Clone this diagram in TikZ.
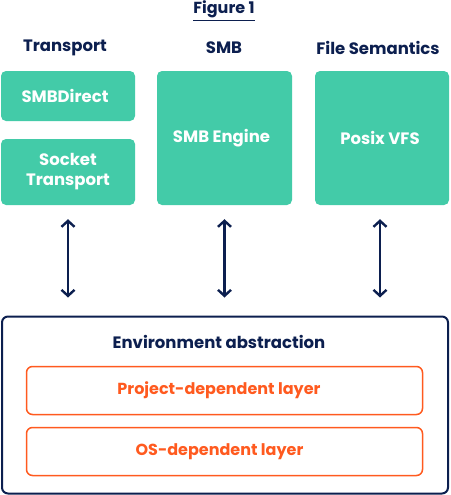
\documentclass[tikz,border=0pt]{standalone}
\usepackage{fontspec}
\setmainfont{Poppins}
\usetikzlibrary{arrows.meta}
\definecolor{navy}{HTML}{0C1F4F}
\definecolor{teal}{HTML}{43CBA8}
\definecolor{orng}{HTML}{FF5A1F}
\tikzset{
	block/.style={fill=teal, rounded corners=5pt, text=white, font=\bfseries\fontsize{16.5}{20}\selectfont, align=center, inner sep=0pt},
	layer/.style={draw=orng, line width=1.5pt, rounded corners=6pt, text=orng, font=\bfseries\fontsize{16}{18}\selectfont, minimum width=396pt, minimum height=48pt, inner sep=0pt},
	head/.style={text=navy, font=\bfseries\fontsize{16.5}{18}\selectfont, inner sep=0pt},
	link/.style={{Straight Barb[length=6pt, width=13pt]}-{Straight Barb[length=6pt, width=13pt]}, line width=2.4pt, draw=navy},
}

\begin{document}
\begin{tikzpicture}[x=1pt, y=-1pt]
				\useasboundingbox (0,0) rectangle (450,495);
				\node[head, font=\bfseries\fontsize{16}{18}\selectfont] (title) at (224,9) {Figure 1};
				\draw[navy, line width=0.9pt] ([yshift=-3pt]title.south west) -- ([yshift=-3pt]title.south east);
				\node[head] (htrans) at (65,48) {Transport};
				\node[head] (hsmb) at (224,48) {SMB};
				\node[head] (hfile) at (378,48) {File Semantics};
				% top row
				\node[block, minimum width=134pt, minimum height=50pt] (direct) at (68,96) {SMBDirect\hspace*{6pt}};
				\node[block, minimum width=134pt, minimum height=66pt] (socket) at (68,172) {Socket\\Transport};
				\node[block, minimum width=135pt, minimum height=134pt] (engine) at (224.5,138) {SMB Engine\hspace*{6pt}};
				\node[block, minimum width=134pt, minimum height=134pt] (vfs) at (382,138) {Posix VFS\hspace*{4pt}};
				% environment
				\node[draw=navy, line width=2pt, rounded corners=6pt, minimum width=446pt, minimum height=177pt] (env) at (225,405) {};
				\node[head] (henv) at (219,342) {Environment abstraction};
				\node[layer] (proj) at (224.5,390.5) {Project-dependent layer\hspace*{11pt}};
				\node[layer] (os) at (224.5,451.5) {OS-dependent layer\hspace*{10pt}};
				% links
				\draw[link, shorten <=14pt, shorten >=18pt] (socket.south) -- (socket.south |- env.north);
				\draw[link, shorten <=14pt, shorten >=18pt] (engine.south) -- (engine.south |- env.north);
				\draw[link, shorten <=14pt, shorten >=18pt] ([xshift=-2pt]vfs.south) -- ([xshift=-2pt]vfs.south |- env.north);
			\end{tikzpicture}
\end{document}
